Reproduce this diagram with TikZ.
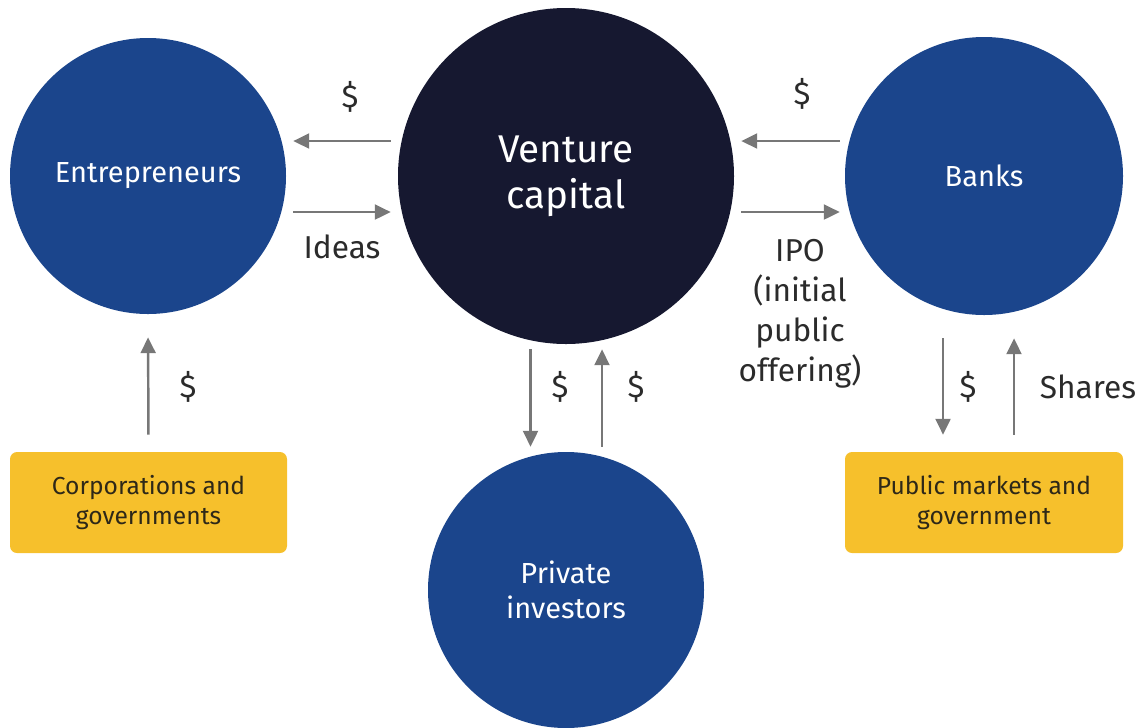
\documentclass[tikz,border=0pt]{standalone}
\usepackage{fontspec}
\setmainfont{Fira Sans}
\usepackage{xcolor}
\usepackage{tikz}
\usetikzlibrary{arrows.meta}

\definecolor{vcnavy}{HTML}{161830}
\definecolor{fundblue}{HTML}{1B458C}
\definecolor{sourcegold}{HTML}{F6C02C}
\definecolor{flowgray}{HTML}{777777}
\definecolor{labelgray}{HTML}{2B2B2B}
\definecolor{boxtext}{HTML}{2E2818}

\begin{document}
\begin{tikzpicture}[%
% common options for the circles:
party/.style = {circle, fill=fundblue, text=white, align=center, inner sep=0,
            minimum size=5.52cm, font=\fontsize{16.5}{20}\selectfont},
% common options for the yellow boxes:
source/.style = {rectangle, rounded corners=4pt, fill=sourcegold, text=boxtext,
            align=center, minimum width=5.54cm, minimum height=2.02cm,
            inner sep=0, font=\fontsize{14}{17.6}\selectfont},
% arrow labels:
flowlabel/.style = {text=labelgray, align=center, inner sep=0,
            font=\fontsize{18}{22.7}\selectfont},
% arrows:
flow/.style = {draw=flowgray, line width=1.4pt,
            -{Triangle[length=9pt, width=8.5pt]}}]
\useasboundingbox (0,0) rectangle (22.86,-14.54);
\node[circle, fill=vcnavy, text=white, align=center, inner sep=0,
      minimum size=6.72cm, font=\fontsize{22}{26}\selectfont]
      (VC) at (11.32,-3.52) {Venture\\capital};
\node[party] (Ent) at (2.96,-3.52) {Entrepreneurs};
\node[party,minimum size=5.56cm] (Bank) at (19.68,-3.52) {Banks};
\node[party] (Priv) at (11.32,-11.80) {Private\\investors};
\node[source] (Corp) at (2.97,-10.05) {Corporations and\\governments};
\node[source,minimum width=5.56cm] (Pub) at (19.68,-10.05) {Public markets and\\government};
\node[flowlabel] (L1) at (7.00,-1.94) {\$};
\node[flowlabel] (L2) at (6.84,-4.94) {Ideas};
\node[flowlabel] (L3) at (16.04,-1.88) {\$};
\node[flowlabel,anchor=north] (L4) at (16.00,-4.78) {IPO\\(initial\\public\\offering)};
\node[flowlabel] (L5) at (3.76,-7.74) {\$};
\node[flowlabel] (L6) at (11.20,-7.74) {\$};
\node[flowlabel] (L7) at (12.72,-7.74) {\$};
\node[flowlabel] (L8) at (19.36,-7.74) {\$};
\node[flowlabel] (L9) at (21.76,-7.74) {Shares};
\draw[flow,shorten <=0.14cm,shorten >=0.14cm] ([yshift=0.70cm]VC.west) to ([yshift=0.70cm]Ent.east);
\draw[flow,shorten <=0.14cm,shorten >=0.14cm] ([yshift=-0.72cm]Ent.east) to ([yshift=-0.72cm]VC.west);
\draw[flow,shorten <=0.10cm,shorten >=0.14cm] ([yshift=0.70cm]Bank.west) to ([yshift=0.70cm]VC.east);
\draw[flow,shorten <=0.14cm,shorten >=0.10cm] ([yshift=-0.72cm]VC.east) to ([yshift=-0.72cm]Bank.west);
\draw[flow,shorten <=0.34cm,shorten >=0.46cm] (Corp.north) to (Ent.south);
\draw[flow,shorten <=0.10cm,shorten >=0.10cm] ([xshift=-0.71cm]VC.south) to ([xshift=-0.71cm]Priv.north);
\draw[flow,shorten <=0.10cm,shorten >=0.10cm] ([xshift=0.72cm]Priv.north) to ([xshift=0.72cm]VC.south);
\draw[flow,shorten <=0.46cm,shorten >=0.34cm] ([xshift=-0.82cm]Bank.south) to ([xshift=-0.82cm]Pub.north);
\draw[flow,shorten <=0.34cm,shorten >=0.46cm] ([xshift=0.60cm]Pub.north) to ([xshift=0.60cm]Bank.south);
\end{tikzpicture}
\end{document}
